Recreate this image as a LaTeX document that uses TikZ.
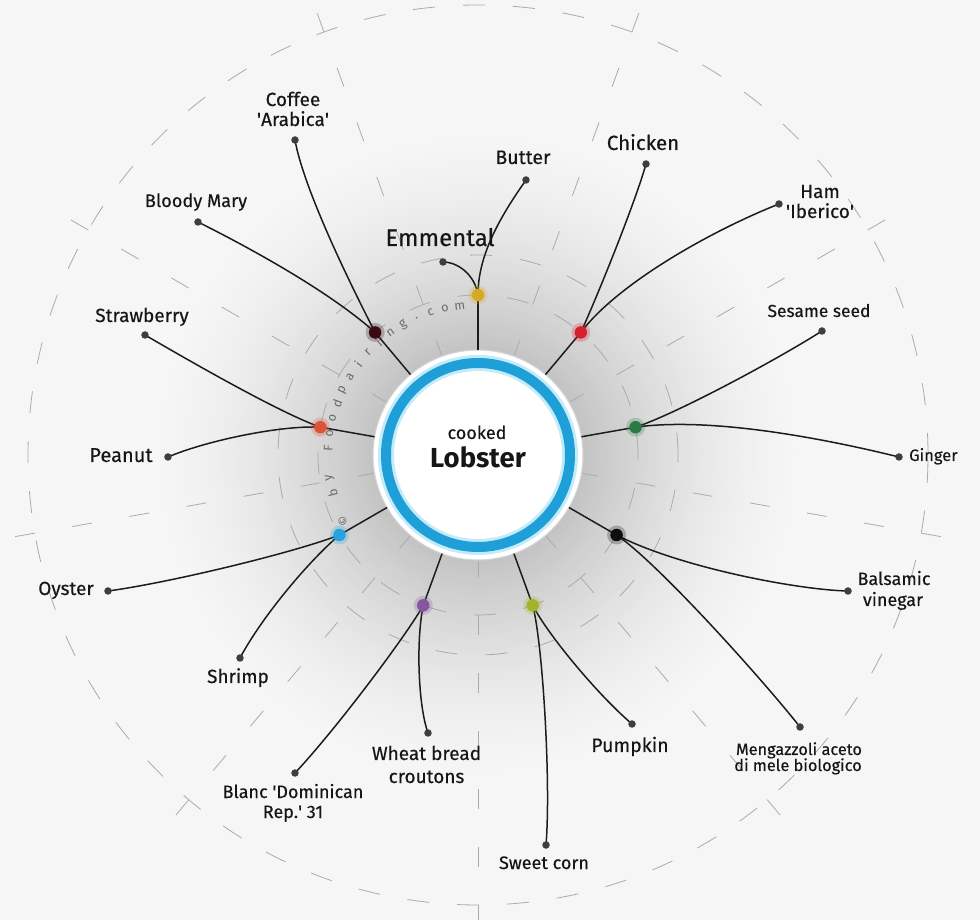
\documentclass[tikz,border=0pt]{standalone}
\usepackage{fontspec}
\setmainfont{Fira Sans}
\newfontfamily\labfont{Fira Sans}[FakeBold=0.35]
\definecolor{bgc}{HTML}{F6F6F6}
\definecolor{haloA}{HTML}{C2C2C2}
\definecolor{gridc}{HTML}{ABABAB}
\definecolor{ringblue}{HTML}{1E9FD8}
\definecolor{ringglow}{HTML}{C6EBF8}
\definecolor{diskedge}{HTML}{D4D4D4}
\definecolor{linec}{HTML}{1C1C1C}
\definecolor{enddot}{HTML}{3E3E3E}
\definecolor{labc}{HTML}{161616}
\definecolor{wmc}{HTML}{6A6A6A}
\definecolor{cMaroon}{HTML}{3A0A14}
\definecolor{cGold}{HTML}{D8A828}
\definecolor{cRed}{HTML}{D6202E}
\definecolor{cGreen}{HTML}{2A7A48}
\definecolor{cBlack}{HTML}{0E0E0E}
\definecolor{cOlive}{HTML}{A4B22E}
\definecolor{cPurple}{HTML}{86569E}
\definecolor{cBlue}{HTML}{28A4DC}
\definecolor{cOrange}{HTML}{DE5238}
\tikzset{
  gridline/.style={draw=gridc, line width=0.8pt, dash pattern=on 22pt off 28pt},
  spoke/.style={draw=gridc, line width=0.8pt, dash pattern=on 20pt off 38pt},
  conn/.style={draw=linec, line width=1.5pt},
  lab/.style={text=labc, font=\labfont\fontsize{19}{22}\selectfont, anchor=base, inner sep=0pt},
  enddotst/.style={circle, fill=enddot, minimum size=7.5pt, inner sep=0pt},
  hubglow/.style={circle, minimum size=19pt, inner sep=0pt, fill opacity=0.25},
  hubst/.style={circle, minimum size=12.5pt, inner sep=0pt},
  wm/.style={text=wmc, font=\fontsize{12.5}{13}\selectfont, inner sep=0pt}
}
\begin{document}
\begin{tikzpicture}[x=1pt,y=1pt]
\useasboundingbox (-478,-465) rectangle (502,455);
\fill[bgc] (-478,-465) rectangle (502,455);
% soft grey halo round the centre
\foreach \r in {340,335,...,105} {
  \pgfmathtruncatemacro\t{100*((340-\r)/235)^1.7}
  \fill[haloA!\t!bgc] (0,0) circle (\r);
}
% background grid
\draw[gridline] (0,0) circle (450);
\draw[gridline] (0,0) circle (200);
\draw[gridline] (0,0) circle (160);
\foreach \a in {30,70,...,350} \draw[spoke] (\a:470) -- (\a:106);
% central disk
\node[circle, fill=white, draw=diskedge, line width=1pt, minimum size=210pt, inner sep=0pt, outer sep=0pt] (disk) at (0,0) {};
\draw[ringglow, line width=16pt] (disk.center) circle (92);
\draw[ringblue, line width=10pt] (disk.center) circle (92);
\node[lab, font=\labfont\fontsize{18}{20}\selectfont] (cooked) at (-1,16) {cooked};
\node[lab, font=\fontsize{27.5}{30}\selectfont\bfseries] (lobster) at (0,-13) {Lobster};
% watermark
\foreach \ch [count=\i from 0] in {©,{},b,y,{},F,o,o,d,p,a,i,r,i,n,g,.,c,o,m} {
  \pgfmathsetmacro\ang{206-5.74*\i}
  \node[wm, rotate=\ang-90] (wm\i) at (\ang:150) {\ch};
}
% hubs
\coordinate (h1) at (130:160);
\coordinate (h2) at (90:160);
\coordinate (h3) at (50:160);
\coordinate (h4) at (10:160);
\coordinate (h5) at (-30:160);
\coordinate (h6) at (-70:160);
\coordinate (h7) at (-110:160);
\coordinate (h8) at (-150:160);
\coordinate (h9) at (170:160);
% end points
\coordinate (eCoffee) at (-183,315);
\coordinate (eBloody) at (-280,233);
\coordinate (eButter) at (48,275);
\coordinate (eEmm) at (-35,193);
\coordinate (eChicken) at (168,291);
\coordinate (eHam) at (301,251);
\coordinate (eSesame) at (344,124);
\coordinate (eGinger) at (421,-2);
\coordinate (eBals) at (370,-136);
\coordinate (eMeng) at (322,-272);
\coordinate (ePump) at (154,-269);
\coordinate (eCorn) at (68,-390);
\coordinate (eWheat) at (-50,-278);
\coordinate (eBlanc) at (-183,-318);
\coordinate (eOyster) at (-370,-136);
\coordinate (eShrimp) at (-238,-203);
\coordinate (eStraw) at (-333,120);
\coordinate (ePeanut) at (-310,-2);
% stubs
\foreach \n/\a in {1/130,2/90,3/50,4/10,5/-30,6/-70,7/-110,8/-150,9/170}
  \draw[conn] (disk.\a) -- (h\n);
% connectors
\draw[conn] (h1) .. controls (-135,185) and (-175,270) .. (eCoffee);
\draw[conn] (h1) .. controls (-148,163) and (-226,206) .. (eBloody);
\draw[conn] (h2) .. controls (0,200) and (22,238) .. (eButter);
\draw[conn] (h2) .. controls (-3,180) and (-20,193) .. (eEmm);
\draw[conn] (h3) .. controls (122,165) and (158,255) .. (eChicken);
\draw[conn] (h3) .. controls (140,172) and (235,225) .. (eHam);
\draw[conn] (h4) .. controls (200,42) and (300,96) .. (eSesame);
\draw[conn] (h4) .. controls (230,38) and (340,18) .. (eGinger);
\draw[conn] (h5) .. controls (200,-112) and (320,-135) .. (eBals);
\draw[conn] (h5) .. controls (180,-108) and (285,-225) .. (eMeng);
\draw[conn] (h6) .. controls (70,-180) and (120,-240) .. (ePump);
\draw[conn] (h6) .. controls (65,-190) and (73,-330) .. (eCorn);
\draw[conn] (h7) .. controls (-62,-185) and (-60,-250) .. (eWheat);
\draw[conn] (h7) .. controls (-70,-178) and (-140,-272) .. (eBlanc);
\draw[conn] (h8) .. controls (-185,-98) and (-310,-128) .. (eOyster);
\draw[conn] (h8) .. controls (-168,-105) and (-215,-160) .. (eShrimp);
\draw[conn] (h9) .. controls (-200,43) and (-290,95) .. (eStraw);
\draw[conn] (h9) .. controls (-195,30) and (-270,15) .. (ePeanut);
% hub dots
\foreach \n/\c in {1/cMaroon,2/cGold,3/cRed,4/cGreen,5/cBlack,6/cOlive,7/cPurple,8/cBlue,9/cOrange} {
  \node[hubglow, fill=\c] (hg\n) at (h\n) {};
  \node[hubst, fill=\c] (hd\n) at (h\n) {};
}
% end dots
\foreach \e in {eCoffee,eBloody,eButter,eEmm,eChicken,eHam,eSesame,eGinger,eBals,eMeng,ePump,eCorn,eWheat,eBlanc,eOyster,eShrimp,eStraw,ePeanut}
  \node[enddotst] (d\e) at (\e) {};
% labels
\node[lab] (lCoffee1) at (-185,349) {Coffee};
\node[lab] (lCoffee2) at (-185,329) {\textquotesingle Arabica\textquotesingle};
\node[lab, font=\labfont\fontsize{18.2}{22}\selectfont] (lBloody) at (-282,248) {Bloody Mary};
\node[lab] (lStraw) at (-336,133) {Strawberry};
\node[lab, font=\labfont\fontsize{20}{22}\selectfont] (lPeanut) at (-357,-7) {Peanut};
\node[lab] (lOyster) at (-412,-140) {Oyster};
\node[lab] (lShrimp) at (-240,-228) {Shrimp};
\node[lab, font=\labfont\fontsize{18}{22}\selectfont] (lBlanc1) at (-185,-343) {Blanc \textquotesingle Dominican};
\node[lab, font=\labfont\fontsize{18}{22}\selectfont] (lBlanc2) at (-185,-363) {Rep.\textquotesingle\ 31};
\node[lab] (lWheat1) at (-51.5,-305) {Wheat bread};
\node[lab] (lWheat2) at (-51.5,-328) {croutons};
\node[lab, font=\labfont\fontsize{18}{22}\selectfont] (lCorn) at (66,-414) {Sweet corn};
\node[lab, font=\labfont\fontsize{19.5}{22}\selectfont] (lPump) at (152,-297) {Pumpkin};
\node[lab, font=\labfont\fontsize{16.3}{17}\selectfont] (lMeng1) at (321,-300) {Mengazzoli aceto};
\node[lab, font=\labfont\fontsize{16.3}{17}\selectfont] (lMeng2) at (320,-316) {di mele biologico};
\node[lab, font=\labfont\fontsize{18}{22}\selectfont] (lBals1) at (416,-130) {Balsamic};
\node[lab, font=\labfont\fontsize{18}{22}\selectfont] (lBals2) at (415,-151) {vinegar};
\node[lab, font=\labfont\fontsize{16.5}{18}\selectfont, anchor=base west] (lGinger) at (431,-6) {Ginger};
\node[lab, font=\labfont\fontsize{17.4}{22}\selectfont] (lSesame) at (341,138) {Sesame seed};
\node[lab] (lHam1) at (342,257) {Ham};
\node[lab] (lHam2) at (342,237) {\textquotesingle Iberico\textquotesingle};
\node[lab, font=\labfont\fontsize{20.5}{22}\selectfont] (lChicken) at (165,305) {Chicken};
\node[lab, font=\labfont\fontsize{19.5}{22}\selectfont] (lButter) at (45,291) {Butter};
\node[lab, font=\labfont\fontsize{24}{26}\selectfont] (lEmm) at (-38,209) {Emmental};
\end{tikzpicture}
\end{document}
